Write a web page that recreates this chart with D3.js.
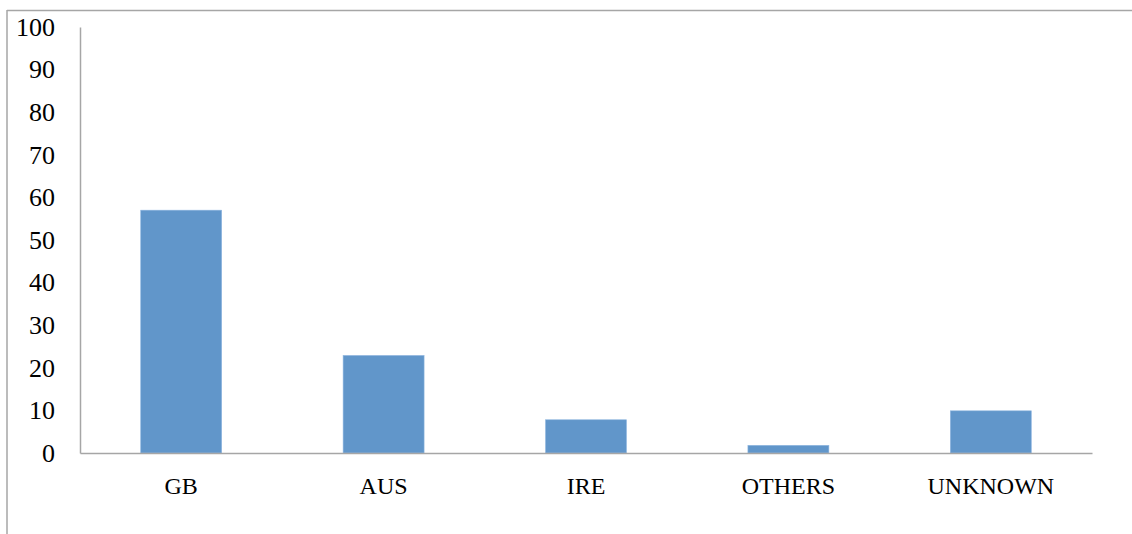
<!DOCTYPE html>
<html><head><meta charset="utf-8">
<script src="https://cdn.jsdelivr.net/npm/d3@7"></script>
<style>body{margin:0;background:#fff}svg{display:block}</style>
</head><body>
<script>
const categories = ["GB","AUS","IRE","OTHERS","UNKNOWN"];
const values = [57.0, 22.9, 7.8, 1.8, 9.9];
const yTicks = [0,10,20,30,40,50,60,70,80,90,100];

const W = 1132, H = 534;
const svg = d3.select("body").append("svg").attr("width", W).attr("height", H);

// outer frame (top + left)
svg.append("line").attr("x1",7).attr("x2",W).attr("y1",10.5).attr("y2",10.5).attr("stroke","#a6a6a6").attr("stroke-width",1.5);
svg.append("line").attr("x1",7).attr("x2",7).attr("y1",10).attr("y2",H).attr("stroke","#a6a6a6").attr("stroke-width",1.5);

const x = d3.scaleBand().domain(categories).range([80,1092]).paddingInner(0.6).paddingOuter(0.3);
const y = d3.scaleLinear().domain([0,100]).range([453,27]);

svg.selectAll("rect.bar").data(categories).enter().append("rect")
  .attr("class","bar")
  .attr("x", d=>x(d)).attr("width", x.bandwidth())
  .attr("y", (d,i)=>y(values[i])).attr("height", (d,i)=>y(0)-y(values[i]))
  .attr("fill","#6196ca").attr("stroke","#8fb6e0").attr("stroke-width",0.6);

const font = "'Liberation Serif', serif";
// y axis
const ya = svg.append("g").attr("transform","translate(80,0)")
  .call(d3.axisLeft(y).tickValues(yTicks).tickSize(0).tickPadding(25).tickFormat(d3.format("d")));
ya.select(".domain").attr("stroke","#a6a6a6").attr("stroke-width",1.5);
ya.selectAll("text").attr("font-family",font).attr("font-size",26).attr("fill","#000");

// x axis
const xa = svg.append("g").attr("transform","translate(0,453)")
  .call(d3.axisBottom(x).tickSize(0).tickPadding(24));
xa.select(".domain").attr("stroke","#a6a6a6").attr("stroke-width",1.5);
xa.selectAll("text").attr("font-family",font).attr("font-size",24).attr("fill","#000");
</script>
</body></html>
